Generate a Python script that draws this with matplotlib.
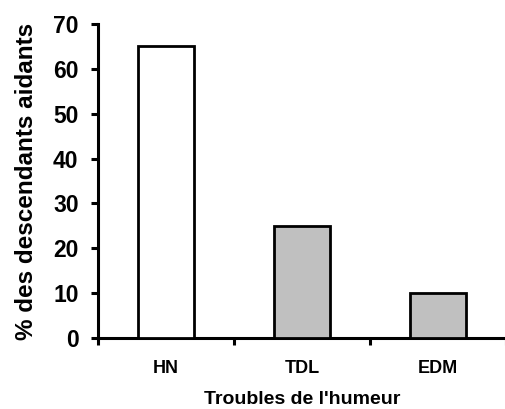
import numpy as np
import matplotlib.pyplot as plt
import matplotlib as mpl

categories = ["HN", "TDL", "EDM"]
values = [65, 25, 10]
bar_colors = ["white", "#c0c0c0", "#c0c0c0"]
y_ticks = [0, 10, 20, 30, 40, 50, 60, 70]

mpl.rc('font', family='Liberation Sans', weight='bold')
fig = plt.figure(figsize=(5.06, 4.09), dpi=100)
ax = fig.add_axes([98/506, 1-338/409, 1-98/506, (338-24)/409])

x = np.arange(len(categories))
ax.bar(x, values, width=0.41, color=bar_colors, edgecolor='black', linewidth=2.0, zorder=3)

ax.set_xlim(-0.5, 2.5)
ax.set_ylim(0, 70)
ax.set_yticks(y_ticks)
ax.set_yticklabels([str(v) for v in y_ticks], fontsize=16.5, fontweight='bold')

ax.set_xticks([-0.5, 0.5, 1.5, 2.5])
ax.set_xticklabels([])
ax.set_xticks(x, minor=True)
ax.set_xticklabels(categories, minor=True, fontsize=13, fontweight='bold')
ax.tick_params(axis='x', which='minor', length=0, pad=16)
ax.tick_params(axis='x', which='major', length=5, width=2.2, direction='out')
ax.tick_params(axis='y', length=5, width=2.2, direction='out', pad=9)

for s in ['top', 'right']:
    ax.spines[s].set_visible(False)
for s in ['left', 'bottom']:
    ax.spines[s].set_linewidth(2.2)
ax.spines['left'].set_bounds(0, 70)

ax.set_ylabel("% des descendants aidants", fontsize=17.5, fontweight='bold', labelpad=11)
ax.set_xlabel("Troubles de l'humeur", fontsize=14, fontweight='bold', labelpad=10)

plt.savefig("out.png", dpi=100)
